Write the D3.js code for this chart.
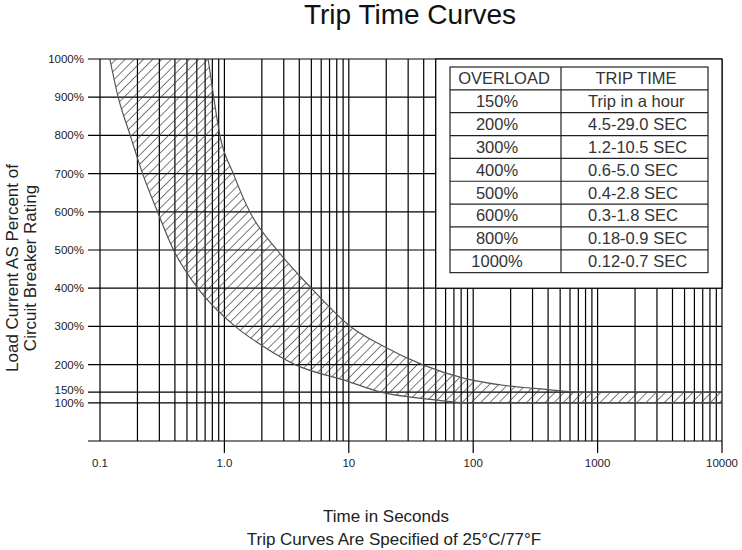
<!DOCTYPE html>
<html>
<head>
<meta charset="utf-8">
<script src="https://cdn.jsdelivr.net/npm/d3@7"></script>
<style>
  body { margin: 0; background: #fff; }
  text { font-family: "Liberation Sans", Arial, sans-serif; }
</style>
</head>
<body>
<div id="chart"></div>
<script>
// tick values
var loadTicks = [100, 150, 200, 300, 400, 500, 600, 700, 800, 900, 1000];
var timeTicks = [0.1, 1, 10, 100, 1000, 10000];
var timeLabels = ["0.1", "1.0", "10", "100", "1000", "10000"];

// trip band (load %, seconds)
var lowerLoad = [1000, 900, 800, 700, 600, 500, 400, 300, 250, 200, 170, 150, 125, 110, 100, 100];
var lowerTime = [0.12, 0.14, 0.175, 0.22, 0.29, 0.39, 0.61, 1.22, 2.0, 3.7, 9.7, 18, 33, 55, 85, 10000];
var upperLoad = [1000, 900, 800, 700, 600, 500, 400, 300, 250, 200, 175, 162, 155, 150, 150];
var upperTime = [0.74, 0.82, 0.92, 1.18, 1.6, 2.65, 5.0, 10.3, 18.5, 39, 85, 180, 380, 700, 10000];

// table
var tableHead = ["OVERLOAD", "TRIP TIME"];
var overloadCol = ["150%", "200%", "300%", "400%", "500%", "600%", "800%", "1000%"];
var tripTimeCol = ["Trip in a hour", "4.5-29.0 SEC", "1.2-10.5 SEC", "0.6-5.0 SEC",
  "0.4-2.8 SEC", "0.3-1.8 SEC", "0.18-0.9 SEC", "0.12-0.7 SEC"];

var width = 742, height = 550;
var plotL = 100, plotR = 722, plotT = 59, plotB = 441;

var svg = d3.select("#chart").append("svg")
  .attr("width", width)
  .attr("height", height);

var x = d3.scaleLog().domain([0.1, 10000]).range([plotL, plotR]);
var u = (plotB - plotT) / 10;
// the 150% line sits a little lower than a linear scale would put it
var y = d3.scaleLinear()
  .domain([0, 100, 150, 200, 1000])
  .range([plotB, plotB - u, plotB - 1.28 * u, plotB - 2 * u, plotT]);

// hatch pattern
var pat = svg.append("defs").append("pattern")
  .attr("id", "hatch")
  .attr("patternUnits", "userSpaceOnUse")
  .attr("width", 6.5).attr("height", 6.5)
  .attr("patternTransform", "rotate(45)");
pat.append("line")
  .attr("x1", 0).attr("y1", 0).attr("x2", 0).attr("y2", 6.5)
  .attr("stroke", "#333").attr("stroke-width", 1.3);

// vertical grid (log minor lines)
var minor = [];
for (var d = 0.1; d < 10000; d *= 10) {
  for (var k = 1; k < 10; k++) minor.push(+(d * k).toPrecision(3));
}
minor.push(10000);

svg.append("g").selectAll("line")
  .data(minor)
  .enter().append("line")
  .attr("x1", function (d) { return x(d); })
  .attr("x2", function (d) { return x(d); })
  .attr("y1", plotT)
  .attr("y2", function (d) { return (d >= 1 && timeTicks.indexOf(d) >= 0) ? plotB + 12 : plotB; })
  .attr("stroke", "#000")
  .attr("stroke-width", 1.2);

// horizontal grid
svg.append("g").selectAll("line")
  .data([0].concat(loadTicks))
  .enter().append("line")
  .attr("x1", plotL - 12)
  .attr("x2", plotR)
  .attr("y1", function (d) { return y(d); })
  .attr("y2", function (d) { return y(d); })
  .attr("stroke", "#000")
  .attr("stroke-width", 1.2);

// band
var lowerPts = lowerTime.map(function (t, i) { return [x(t), y(lowerLoad[i])]; });
var upperPts = upperTime.map(function (t, i) { return [x(t), y(upperLoad[i])]; }).reverse();
var line = d3.line().curve(d3.curveMonotoneX);
var bandPath = line(lowerPts) + "L" + line(upperPts).slice(1) + "Z";

svg.append("path")
  .attr("d", bandPath)
  .attr("fill", "url(#hatch)")
  .attr("stroke", "none");
svg.append("path")
  .attr("d", line(lowerPts))
  .attr("fill", "none")
  .attr("stroke", "#555")
  .attr("stroke-width", 1.2);
svg.append("path")
  .attr("d", line(upperPts))
  .attr("fill", "none")
  .attr("stroke", "#555")
  .attr("stroke-width", 1.2);

// y labels
svg.append("g").selectAll("text")
  .data(loadTicks)
  .enter().append("text")
  .attr("x", plotL - 16)
  .attr("y", function (d) { return y(d); })
  .attr("dy", function (d) { return d === 150 ? "0.2em" : (d === 100 ? "0.4em" : "0.35em"); })
  .attr("text-anchor", "end")
  .attr("font-size", 11.5)
  .attr("fill", "#222")
  .text(function (d) { return d + "%"; });

// x labels
svg.append("g").selectAll("text")
  .data(timeTicks)
  .enter().append("text")
  .attr("x", function (d) { return x(d); })
  .attr("y", plotB + 26)
  .attr("text-anchor", "middle")
  .attr("font-size", 11.5)
  .attr("fill", "#222")
  .text(function (d, i) { return timeLabels[i]; });

// white box holding the table
svg.append("rect")
  .attr("x", x(50))
  .attr("y", y(1000))
  .attr("width", x(10000) - x(50))
  .attr("height", y(400) - y(1000))
  .attr("fill", "#fff")
  .attr("stroke", "#000")
  .attr("stroke-width", 1.2);

// table
var tL = 450, tR = 708, tT = 67, rowH = 22.85, colX = 561;
var nRows = overloadCol.length + 1;
var tbl = svg.append("g");
tbl.append("rect")
  .attr("x", tL).attr("y", tT)
  .attr("width", tR - tL).attr("height", rowH * nRows)
  .attr("fill", "none").attr("stroke", "#222").attr("stroke-width", 1.2);
tbl.append("line")
  .attr("x1", colX).attr("x2", colX)
  .attr("y1", tT).attr("y2", tT + rowH * nRows)
  .attr("stroke", "#222").attr("stroke-width", 1.2);
tbl.selectAll(".row-line")
  .data(d3.range(1, nRows))
  .enter().append("line")
  .attr("class", "row-line")
  .attr("x1", tL).attr("x2", tR)
  .attr("y1", function (d) { return tT + d * rowH; })
  .attr("y2", function (d) { return tT + d * rowH; })
  .attr("stroke", "#222").attr("stroke-width", 1.2);

tbl.append("text")
  .attr("x", 504).attr("y", tT + rowH / 2).attr("dy", "0.36em")
  .attr("text-anchor", "middle").attr("font-size", 16.5).attr("fill", "#333")
  .text(tableHead[0]);
tbl.append("text")
  .attr("x", 636).attr("y", tT + rowH / 2).attr("dy", "0.36em")
  .attr("text-anchor", "middle").attr("font-size", 16.5).attr("fill", "#333")
  .text(tableHead[1]);

tbl.selectAll(".c1")
  .data(overloadCol)
  .enter().append("text")
  .attr("class", "c1")
  .attr("x", 497)
  .attr("y", function (d, i) { return tT + (i + 1.5) * rowH; })
  .attr("dy", "0.36em")
  .attr("text-anchor", "middle").attr("font-size", 16.5).attr("fill", "#333")
  .text(function (d) { return d; });

tbl.selectAll(".c2")
  .data(tripTimeCol)
  .enter().append("text")
  .attr("class", "c2")
  .attr("x", 588)
  .attr("y", function (d, i) { return tT + (i + 1.5) * rowH; })
  .attr("dy", "0.36em")
  .attr("text-anchor", "start").attr("font-size", 16.5).attr("fill", "#333")
  .text(function (d) { return d; });

// titles
svg.append("text")
  .attr("x", 410).attr("y", 24)
  .attr("text-anchor", "middle")
  .attr("font-size", 28)
  .attr("fill", "#111")
  .text("Trip Time Curves");

svg.append("text")
  .attr("x", 386).attr("y", 522)
  .attr("text-anchor", "middle")
  .attr("font-size", 17)
  .attr("fill", "#222")
  .text("Time in Seconds");

svg.append("text")
  .attr("x", 394).attr("y", 545)
  .attr("text-anchor", "middle")
  .attr("font-size", 17)
  .attr("fill", "#222")
  .text("Trip Curves Are Specified of 25°C/77°F");

var yTitle = svg.append("text")
  .attr("transform", "translate(0,268) rotate(-90)")
  .attr("text-anchor", "middle")
  .attr("font-size", 17)
  .attr("fill", "#222");
yTitle.append("tspan").attr("x", 0).attr("y", 18).text("Load Current AS Percent of");
yTitle.append("tspan").attr("x", 0).attr("y", 36).text("Circuit Breaker Rating");
</script>
</body>
</html>
